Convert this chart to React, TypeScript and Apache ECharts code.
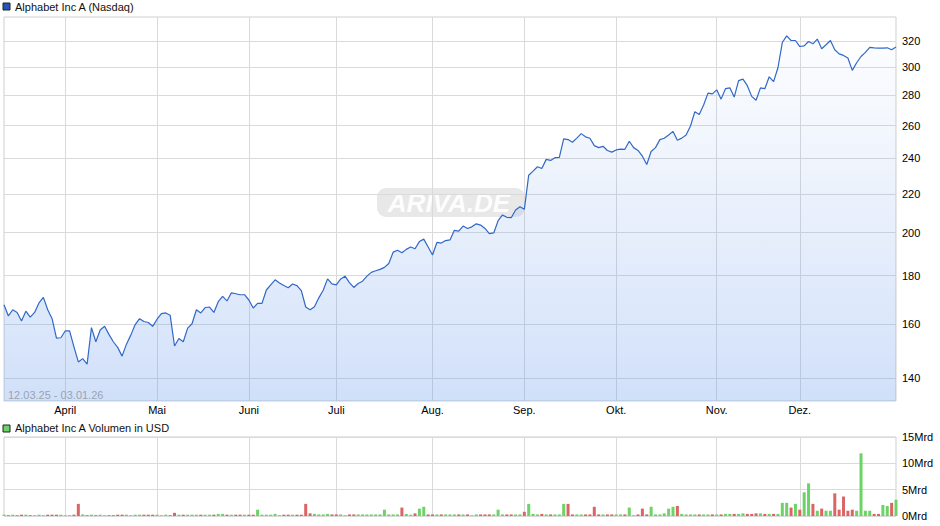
import React, { useEffect, useRef } from "react";
import * as echarts from "echarts";

// trading days per month (day of month)
const marDays = [12, 13, 14, 17, 18, 19, 20, 21, 24, 25, 26, 27, 28, 31];
const aprDays = [1, 2, 3, 4, 7, 8, 9, 10, 11, 14, 15, 16, 17, 21, 22, 23, 24, 25, 28, 29, 30];
const mayDays = [1, 2, 5, 6, 7, 8, 9, 12, 13, 14, 15, 16, 19, 20, 21, 22, 23, 27, 28, 29, 30];
const junDays = [2, 3, 4, 5, 6, 9, 10, 11, 12, 13, 16, 17, 18, 20, 23, 24, 25, 26, 27, 30];
const julDays = [1, 2, 3, 7, 8, 9, 10, 11, 14, 15, 16, 17, 18, 21, 22, 23, 24, 25, 28, 29, 30, 31];
const augDays = [1, 4, 5, 6, 7, 8, 11, 12, 13, 14, 15, 18, 19, 20, 21, 22, 25, 26, 27, 28, 29];
const sepDays = [2, 3, 4, 5, 8, 9, 10, 11, 12, 15, 16, 17, 18, 19, 22, 23, 24, 25, 26, 29, 30];
const octDays = [1, 2, 3, 6, 7, 8, 9, 10, 13, 14, 15, 16, 17, 20, 21, 22, 23, 24, 27, 28, 29, 30, 31];
const novDays = [3, 4, 5, 6, 7, 10, 11, 12, 13, 14, 17, 18, 19, 20, 21, 24, 25, 26, 28];
const decDays = [1, 2, 3, 4, 5, 8, 9, 10, 11, 12, 15, 16, 17, 18, 19, 22, 23, 24, 26, 29, 30, 31];
const janDays = [2];

// closing prices (USD)
const marPrices = [167.6, 163.1, 165.6, 164.5, 161.1, 165.0, 162.6, 164.5, 168.4, 170.7, 165.6, 162.0, 154.5, 154.6];
const aprPrices = [157.2, 157.2, 151.2, 145.7, 146.9, 144.9, 158.5, 153.1, 157.6, 159.0, 155.9, 153.1, 151.0, 147.8, 152.2, 155.6, 159.7, 162.0, 160.9, 160.5, 159.0];
const mayPrices = [161.8, 164.0, 164.3, 163.4, 151.5, 154.3, 153.1, 158.3, 160.0, 165.6, 164.3, 166.5, 166.7, 164.5, 168.9, 171.1, 169.2, 172.6, 172.2, 171.8, 171.8];
const junPrices = [169.6, 166.3, 168.2, 168.2, 173.8, 176.0, 178.2, 176.8, 175.7, 174.8, 176.4, 175.7, 173.5, 166.7, 165.6, 166.8, 170.5, 173.7, 178.6, 176.4];
const julPrices = [176.0, 178.6, 179.8, 177.0, 174.9, 176.6, 177.6, 179.8, 181.5, 182.2, 182.8, 183.7, 185.5, 190.7, 191.6, 190.4, 192.0, 193.1, 192.3, 195.7, 196.9, 193.1];
const augPrices = [189.4, 195.3, 195.0, 196.2, 196.5, 201.2, 200.8, 203.3, 202.1, 202.9, 204.4, 203.8, 202.1, 199.6, 199.9, 206.0, 208.9, 207.7, 207.5, 211.5, 213.2];
const sepPrices = [211.8, 230.3, 232.6, 235.1, 234.1, 239.4, 238.8, 240.4, 240.6, 251.7, 251.3, 249.7, 252.2, 255.0, 253.0, 252.1, 247.6, 246.4, 247.2, 244.7, 243.7];
const octPrices = [245.0, 245.5, 245.4, 250.3, 246.4, 244.7, 241.3, 236.4, 244.1, 246.4, 251.3, 252.1, 254.2, 256.4, 250.9, 252.2, 254.2, 259.8, 269.1, 267.3, 273.5, 281.6, 281.1];
const novPrices = [283.9, 277.5, 284.7, 285.3, 278.9, 290.4, 291.5, 286.8, 279.4, 276.7, 285.3, 284.7, 293.1, 289.7, 299.7, 318.8, 324.1, 320.4, 320.4];
const decPrices = [315.7, 316.2, 319.6, 317.8, 321.5, 314.0, 317.1, 320.4, 313.2, 310.1, 308.9, 306.9, 297.8, 303.4, 308.1, 311.2, 315.1, 314.7, 314.4, 314.4, 314.7, 313.2];
const janPrices = [315.3];

// volume in Mrd USD
const marVol = [0.25, 0.15, 0.25, 0.15, 0.25, 0.25, 0.15, 0.15, 0.25, 0.15, 0.25, 0.25, 0.25, 0.25];
const aprVol = [0.15, 0.15, 0.25, 2.3, 0.3, 0.15, 0.25, 0.15, 0.25, 0.15, 0.15, 0.15, 0.25, 0.25, 0.25, 0.15, 0.25, 0.25, 0.25, 0.25, 0.25];
const mayVol = [0.25, 0.15, 0.25, 0.15, 0.6, 0.25, 0.25, 0.25, 0.25, 0.25, 0.25, 0.25, 0.25, 0.25, 0.4, 0.4, 0.25, 0.25, 0.25, 0.25, 0.25];
const junVol = [0.25, 0.25, 1.2, 0.25, 0.25, 0.25, 0.4, 0.1, 0.25, 0.25, 0.25, 0.25, 0.25, 2.3, 0.5, 0.4, 0.3, 0.3, 0.4, 0.3];
const julVol = [0.3, 0.3, 0.15, 0.3, 0.3, 0.3, 0.3, 0.3, 0.3, 0.3, 0.3, 1.2, 0.3, 0.3, 0.3, 1.6, 0.4, 0.25, 0.5, 1.4, 1.75, 0.3];
const augVol = [0.3, 0.3, 0.3, 0.3, 0.3, 0.3, 0.3, 0.3, 0.3, 0.15, 0.3, 0.3, 0.3, 0.3, 0.3, 1.2, 0.3, 0.3, 0.3, 0.3, 0.3];
const sepVol = [0.8, 2.3, 0.4, 0.3, 0.4, 0.3, 0.3, 0.3, 0.3, 2.3, 2.3, 0.3, 0.3, 0.3, 0.3, 0.3, 1.75, 0.3, 0.3, 0.3, 0.3];
const octVol = [0.3, 0.3, 0.3, 1.6, 0.1, 0.3, 1.4, 0.3, 1.75, 0.3, 0.3, 0.5, 1.4, 1.75, 1.9, 0.4, 0.3, 0.3, 0.3, 0.3, 0.3, 0.3, 0.3];
const novVol = [0.3, 0.3, 0.4, 0.4, 0.4, 0.4, 0.5, 0.4, 0.4, 0.5, 0.5, 0.4, 0.4, 0.4, 0.4, 2.5, 2.5, 1.6, 2.3];
const decVol = [1.2, 4.5, 6.2, 2.3, 1.0, 1.4, 1.0, 1.0, 4.3, 1.2, 3.7, 1.0, 1.2, 1.0, 11.9, 1.0, 1.0, 0.4, 0.4, 2.1, 1.9, 2.5];
const janVol = [3.1];

const monthBlocks: [number, number, number[], number[], number[]][] = [
  [3, 25, marDays, marPrices, marVol],
  [4, 25, aprDays, aprPrices, aprVol],
  [5, 25, mayDays, mayPrices, mayVol],
  [6, 25, junDays, junPrices, junVol],
  [7, 25, julDays, julPrices, julVol],
  [8, 25, augDays, augPrices, augVol],
  [9, 25, sepDays, sepPrices, sepVol],
  [10, 25, octDays, octPrices, octVol],
  [11, 25, novDays, novPrices, novVol],
  [12, 25, decDays, decPrices, decVol],
  [1, 26, janDays, janPrices, janVol],
];

const monthNames: Record<number, string> = {
  4: "April", 5: "Mai", 6: "Juni", 7: "Juli", 8: "Aug.", 9: "Sep.", 10: "Okt.", 11: "Nov.", 12: "Dez.",
};

const priceTicks = [140, 160, 180, 200, 220, 240, 260, 280, 300, 320];
const priceMin = 132.4;
const priceMax = 339.4;

const pad = (n: number) => (n < 10 ? "0" + n : String(n));

const categories: string[] = [];
const monthOf: number[] = [];
const prices: number[] = [];
const volumes: number[] = [];
monthBlocks.forEach(([mo, yy, days, pr, vo]) => {
  days.forEach((d, i) => {
    categories.push(`${pad(d)}.${pad(mo)}.${yy}`);
    monthOf.push(mo);
    prices.push(pr[i]);
    volumes.push(vo[i]);
  });
});

const isMonthStart = (i: number) =>
  i > 0 && monthOf[i] !== monthOf[i - 1] && monthNames[monthOf[i]] !== undefined;

const FONT = "'Liberation Sans', Arial, sans-serif";
const GRID_COLOR = "#dadada";
const GREEN = "#6cd466";
const RED = "#dc6464";

export default function App() {
  const ref = useRef<HTMLDivElement>(null);

  useEffect(() => {
    if (!ref.current) return;
    const chart = echarts.init(ref.current, undefined, { renderer: "svg" });

    const volData = volumes.map((v, i) => ({
      value: v,
      itemStyle: { color: i === 0 || prices[i] >= prices[i - 1] ? GREEN : RED },
    }));

    chart.setOption({
      animation: false,
      backgroundColor: "#ffffff",
      textStyle: { fontFamily: FONT },
      grid: [
        { left: 4, top: 17, width: 892, height: 384, show: true, borderColor: "#cfcfcf", borderWidth: 1 },
        { left: 4, top: 437, width: 892, height: 79, show: true, borderColor: "#cfcfcf", borderWidth: 1 },
      ],
      xAxis: [
        {
          type: "category",
          gridIndex: 0,
          data: categories,
          boundaryGap: false,
          axisLine: { show: false },
          axisTick: { show: false },
          axisLabel: {
            interval: (i: number) => isMonthStart(i),
            formatter: (_v: string, i: number) => monthNames[monthOf[i]] || "",
            margin: 3,
            color: "#000",
            fontSize: 11,
            fontFamily: FONT,
          },
          splitLine: {
            show: true,
            interval: (i: number) => isMonthStart(i),
            lineStyle: { color: GRID_COLOR, width: 1 },
          },
        },
        {
          type: "category",
          gridIndex: 1,
          data: categories,
          boundaryGap: false,
          axisLine: { show: false },
          axisTick: { show: false },
          axisLabel: { show: false },
          splitLine: {
            show: true,
            interval: (i: number) => isMonthStart(i),
            lineStyle: { color: GRID_COLOR, width: 1 },
          },
        },
      ],
      yAxis: [
        {
          type: "value",
          gridIndex: 0,
          position: "right",
          min: Math.log(priceMin),
          max: Math.log(priceMax),
          axisLine: { show: false },
          axisTick: { show: false, customValues: priceTicks.map((v) => Math.log(v)) },
          axisLabel: {
            customValues: priceTicks.map((v) => Math.log(v)),
            formatter: (v: number) => String(Math.round(Math.exp(v))),
            margin: 6,
            color: "#000",
            fontSize: 11,
            fontFamily: FONT,
          },
          splitLine: { show: true, lineStyle: { color: GRID_COLOR, width: 1 } },
        },
        {
          type: "value",
          gridIndex: 1,
          position: "right",
          min: 0,
          max: 15,
          interval: 5,
          axisLine: { show: false },
          axisTick: { show: false },
          axisLabel: {
            formatter: (v: number) => `${v}Mrd`,
            margin: 6,
            color: "#000",
            fontSize: 11,
            fontFamily: FONT,
          },
          splitLine: { show: true, lineStyle: { color: GRID_COLOR, width: 1 } },
        },
      ],
      series: [
        {
          type: "line",
          xAxisIndex: 0,
          yAxisIndex: 0,
          data: prices.map((v) => Math.log(v)),
          symbol: "none",
          z: 3,
          lineStyle: { color: "#3168c8", width: 1.2 },
          areaStyle: {
            origin: "start",
            color: new echarts.graphic.LinearGradient(0, 0, 0, 1, [
              { offset: 0, color: "rgba(120,160,235,0.03)" },
              { offset: 1, color: "rgba(90,145,235,0.40)" },
            ]),
          },
        },
        {
          type: "bar",
          xAxisIndex: 1,
          yAxisIndex: 1,
          data: volData,
          barWidth: 3,
        },
      ],
      graphic: [
        {
          type: "group",
          z: 1,
          children: [
            {
              type: "rect",
              shape: { x: 377, y: 188, width: 148, height: 29, r: 9 },
              style: { fill: "rgba(205,205,205,0.45)" },
            },
            {
              type: "text",
              x: 449,
              y: 203,
              style: {
                text: "ARIVA.DE",
                fill: "rgba(255,255,255,0.95)",
                font: "italic bold 26px 'Liberation Sans', Arial, sans-serif",
                align: "center",
                verticalAlign: "middle",
              },
            },
          ],
        },
        {
          type: "rect",
          shape: { x: 3, y: 3, width: 7, height: 7 },
          style: { fill: "#2456b8", stroke: "#222", lineWidth: 1 },
        },
        {
          type: "text",
          x: 15,
          y: 7,
          style: {
            text: "Alphabet Inc A (Nasdaq)",
            fill: "#111",
            font: "11px 'Liberation Sans', Arial, sans-serif",
            verticalAlign: "middle",
          },
        },
        {
          type: "rect",
          shape: { x: 3, y: 425, width: 7, height: 7 },
          style: { fill: GREEN, stroke: "#222", lineWidth: 1 },
        },
        {
          type: "text",
          x: 15,
          y: 428,
          style: {
            text: "Alphabet Inc A Volumen in USD",
            fill: "#111",
            font: "11px 'Liberation Sans', Arial, sans-serif",
            verticalAlign: "middle",
          },
        },
        {
          type: "text",
          x: 8,
          y: 395,
          z: 10,
          style: {
            text: "12.03.25 - 03.01.26",
            fill: "#9aa3b2",
            font: "11px 'Liberation Sans', Arial, sans-serif",
            verticalAlign: "middle",
          },
        },
      ],
    });

    return () => chart.dispose();
  }, []);

  return (
    <div
      ref={ref}
      style={{ position: "fixed", left: 0, top: 0, width: 940, height: 526 }}
    />
  );
}
